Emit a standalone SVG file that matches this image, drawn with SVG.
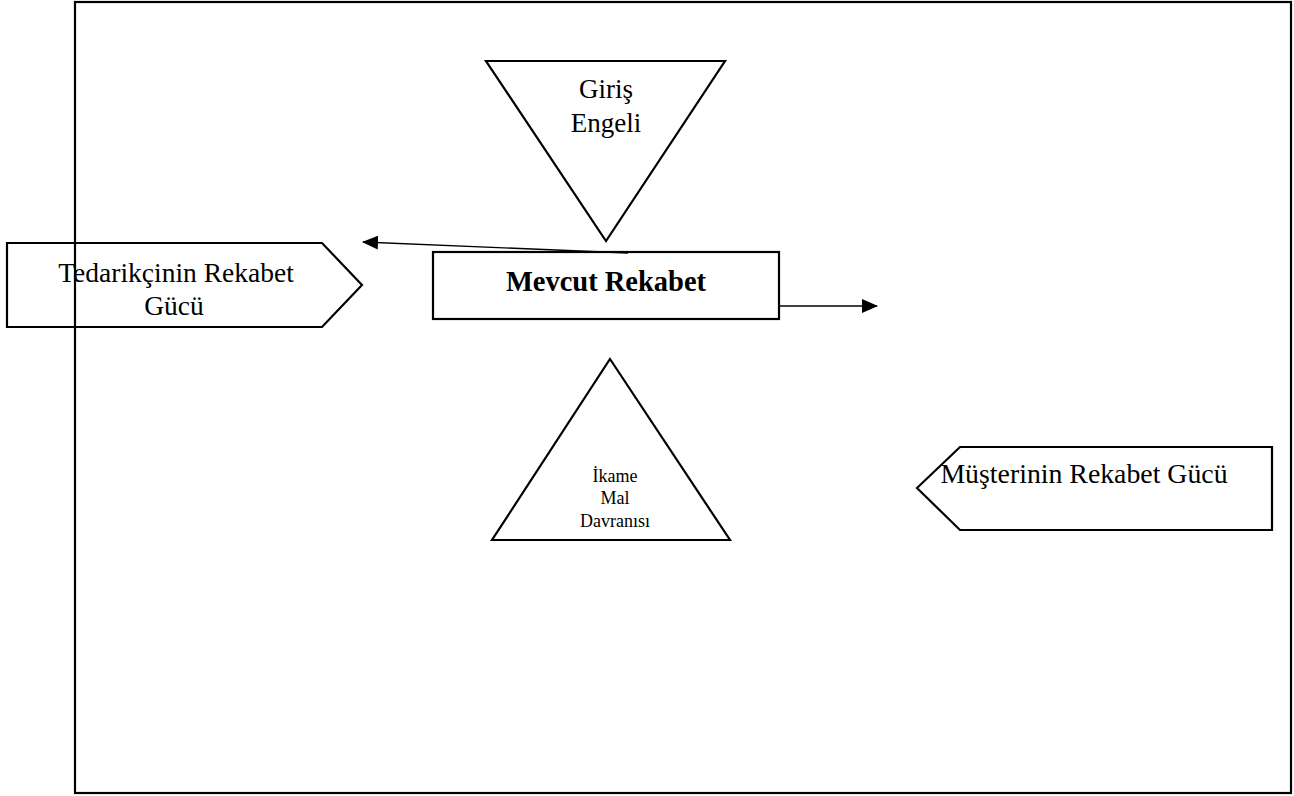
<svg xmlns="http://www.w3.org/2000/svg" width="1294" height="796" viewBox="0 0 1294 796">
<style>
.shape{fill:#fff;stroke:#000;stroke-width:2.2}
.t{font-family:"Liberation Serif","Times New Roman",serif;fill:#000;text-anchor:middle}
.conn{stroke:#000;stroke-width:1.3;fill:none}
</style>
<defs>
<marker id="ah" markerWidth="16" markerHeight="14" refX="15" refY="7" orient="auto" markerUnits="userSpaceOnUse">
<path d="M0,0 L16,7 L0,14 Z" fill="#000"/>
</marker>
</defs>
<rect x="0" y="0" width="1294" height="796" fill="#fff"/>
<g id="giris-engeli">
<polygon class="shape" points="486,61 725,61 606,241"/>
<text class="t" x="606" y="98" font-size="27">Giriş</text>
<text class="t" x="606" y="132" font-size="27">Engeli</text>
</g>
<g id="tedarikci">
<polygon class="shape" points="7,243 322,243 362,285 322,327 7,327"/>
<text class="t" x="176" y="282" font-size="27.5">Tedarikçinin Rekabet</text>
<text class="t" x="174" y="315" font-size="27.5">Gücü</text>
</g>
<g id="mevcut-rekabet">
<rect class="shape" x="433" y="252" width="346" height="67"/>
<text class="t" x="606" y="291" font-size="28.5" font-weight="bold">Mevcut Rekabet</text>
</g>
<g id="ikame">
<polygon class="shape" points="610,359 730,540 492,540"/>
<text class="t" x="615" y="482" font-size="18">İkame</text>
<text class="t" x="615" y="504" font-size="18">Mal</text>
<text class="t" x="615" y="527" font-size="18">Davranısı</text>
</g>
<g id="musteri">
<polygon class="shape" points="917,488 960,447 1272,447 1272,530 960,530"/>
<text class="t" x="1084" y="483" font-size="27.8">Müşterinin Rekabet Gücü</text>
</g>
<g id="connectors">
<line class="conn" x1="628" y1="253" x2="363" y2="242" marker-end="url(#ah)"/>
<line class="conn" x1="779" y1="306" x2="877" y2="306" marker-end="url(#ah)"/>
</g>
<rect id="frame" x="75" y="2" width="1216" height="791" fill="none" stroke="#000" stroke-width="2.2"/>
</svg>
